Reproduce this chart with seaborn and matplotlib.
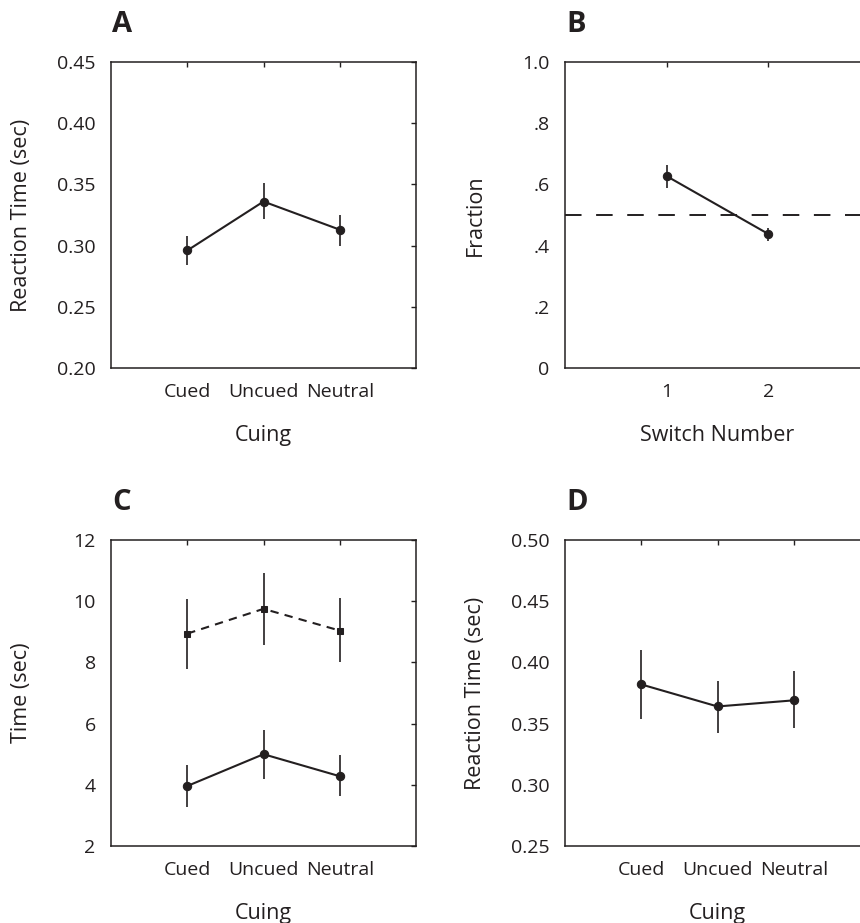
import matplotlib
matplotlib.use("Agg")
import matplotlib.pyplot as plt
import numpy as np
import pandas as pd
import seaborn as sns

# values
cuing = ["Cued", "Uncued", "Neutral"]

rt_a = [0.296, 0.336, 0.313]
rt_a_lo = [0.284, 0.322, 0.300]
rt_a_hi = [0.308, 0.351, 0.325]

switch_num = [1, 2]
frac_b = [0.627, 0.438]
frac_b_lo = [0.588, 0.416]
frac_b_hi = [0.663, 0.458]
chance = 0.5

time_c_solid = [3.96, 5.00, 4.28]
time_c_solid_lo = [3.28, 4.20, 3.63]
time_c_solid_hi = [4.64, 5.78, 4.96]
time_c_dash = [8.94, 9.75, 9.04]
time_c_dash_lo = [7.80, 8.57, 8.00]
time_c_dash_hi = [10.07, 10.92, 10.12]

rt_d = [0.382, 0.364, 0.369]
rt_d_lo = [0.354, 0.342, 0.346]
rt_d_hi = [0.410, 0.385, 0.393]

INK = "#231f20"

sns.set_style("white")
plt.rcParams['font.family'] = ['Open Sans', 'DejaVu Sans']
plt.rcParams['font.size'] = 15.5
plt.rcParams['text.color'] = INK
plt.rcParams['axes.labelcolor'] = INK
plt.rcParams['xtick.color'] = INK
plt.rcParams['ytick.color'] = INK


def style_axes(ax):
    for s in ax.spines.values():
        s.set_visible(True)
        s.set_color(INK)
        s.set_linewidth(1.1)
    ax.tick_params(direction='in', top=True, right=True, length=3.5, width=1,
                   pad=11, labelsize=14)
    ax.yaxis.set_label_coords(-0.26, 0.5)
    ax.xaxis.set_label_coords(0.5, -0.185)


def draw_series(ax, xs, mean, lo, hi, marker, ms, dashes=None):
    df = pd.DataFrame({'x': xs, 'y': mean})
    sns.lineplot(data=df, x='x', y='y', ax=ax, color=INK, linewidth=1.5,
                 marker=marker, markersize=ms, markeredgecolor=INK,
                 markerfacecolor=INK, legend=False)
    if dashes is not None:
        ax.lines[-1].set_dashes(dashes)
    ax.vlines(xs, lo, hi, color=INK, linewidth=1.2)


fig = plt.figure(figsize=(8.6, 9.23), dpi=100)
w = 305 / 860
h = 306 / 923
ax_a = fig.add_axes([111 / 860, 1 - 368 / 923, w, h])
ax_b = fig.add_axes([565 / 860, 1 - 368 / 923, w, h])
ax_c = fig.add_axes([111 / 860, 1 - 846 / 923, w, h])
ax_d = fig.add_axes([565 / 860, 1 - 846 / 923, w, h])

pos = np.arange(len(cuing))

# A
draw_series(ax_a, pos, rt_a, rt_a_lo, rt_a_hi, 'o', 6)
ax_a.set_xlim(-1, 3)
ax_a.set_ylim(0.20, 0.45)
ax_a.set_yticks([0.20, 0.25, 0.30, 0.35, 0.40, 0.45])
ax_a.set_yticklabels(["0.20", "0.25", "0.30", "0.35", "0.40", "0.45"])
ax_a.set_xticks(pos)
ax_a.set_xticklabels(cuing)
ax_a.set_xlabel("Cuing")
ax_a.set_ylabel("Reaction Time (sec)")

# B
draw_series(ax_b, switch_num, frac_b, frac_b_lo, frac_b_hi, 'o', 6)
ax_b.axhline(chance, color=INK, linewidth=1.4, dashes=(8.5, 7.5))
ax_b.set_xlim(0, 3)
ax_b.set_ylim(0, 1.0)
ax_b.set_yticks([0, 0.2, 0.4, 0.6, 0.8, 1.0])
ax_b.set_yticklabels(["0", ".2", ".4", ".6", ".8", "1.0"])
ax_b.set_xticks(switch_num)
ax_b.set_xticklabels([str(s) for s in switch_num])
ax_b.set_xlabel("Switch Number")
ax_b.set_ylabel("Fraction")

# C
draw_series(ax_c, pos, time_c_solid, time_c_solid_lo, time_c_solid_hi, 'o', 6)
draw_series(ax_c, pos, time_c_dash, time_c_dash_lo, time_c_dash_hi, 's', 5, dashes=(4, 3))
ax_c.set_xlim(-1, 3)
ax_c.set_ylim(2, 12)
ax_c.set_yticks([2, 4, 6, 8, 10, 12])
ax_c.set_xticks(pos)
ax_c.set_xticklabels(cuing)
ax_c.set_xlabel("Cuing")
ax_c.set_ylabel("Time (sec)")

# D
draw_series(ax_d, pos, rt_d, rt_d_lo, rt_d_hi, 'o', 6)
ax_d.set_xlim(-1, 3)
ax_d.set_ylim(0.25, 0.50)
ax_d.set_yticks([0.25, 0.30, 0.35, 0.40, 0.45, 0.50])
ax_d.set_yticklabels(["0.25", "0.30", "0.35", "0.40", "0.45", "0.50"])
ax_d.set_xticks(pos)
ax_d.set_xticklabels(cuing)
ax_d.set_xlabel("Cuing")
ax_d.set_ylabel("Reaction Time (sec)")

for ax, letter in zip([ax_a, ax_b, ax_c, ax_d], "ABCD"):
    style_axes(ax)
    ax.text(0.003, 1.097, letter, transform=ax.transAxes, fontsize=21,
            fontweight='bold', va='baseline', ha='left', color=INK)

fig.savefig("out.png", dpi=100)
